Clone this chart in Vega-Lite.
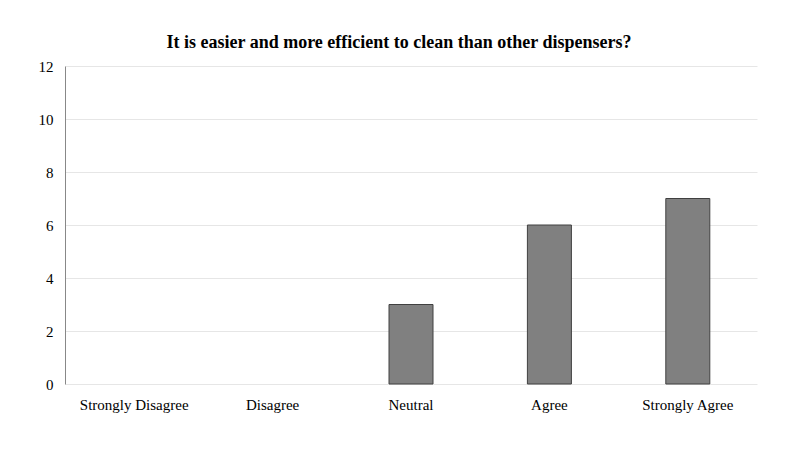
{
  "$schema": "https://vega.github.io/schema/vega-lite/v6.json",
  "autosize": {"type": "none"},
  "width": 692,
  "height": 318,
  "padding": {"left": 65, "top": 66, "right": 43, "bottom": 66},
  "background": "white",
  "title": {
    "text": "It is easier and more efficient to clean than other dispensers?",
    "font": "Liberation Serif",
    "fontSize": 18,
    "fontWeight": "bold",
    "color": "black",
    "anchor": "middle",
    "offset": 7,
    "dx": -12
  },
  "data": {
    "values": [
      {"response": "Strongly Disagree", "count": 0},
      {"response": "Disagree", "count": 0},
      {"response": "Neutral", "count": 3},
      {"response": "Agree", "count": 6},
      {"response": "Strongly Agree", "count": 7}
    ]
  },
  "mark": {"type": "bar", "width": 44, "color": "#808080", "stroke": "#404040", "strokeWidth": 1},
  "encoding": {
    "x": {
      "field": "response",
      "type": "nominal",
      "sort": null,
      "scale": {"paddingInner": 0, "paddingOuter": 0},
      "axis": {
        "title": null,
        "labelAngle": 0,
        "labelFont": "Liberation Serif",
        "labelFontSize": 15,
        "labelColor": "black",
        "ticks": false,
        "domain": false,
        "labelPadding": 13
      }
    },
    "y": {
      "field": "count",
      "type": "quantitative",
      "scale": {"domain": [0, 12]},
      "axis": {
        "title": null,
        "values": [0, 2, 4, 6, 8, 10, 12],
        "labelFont": "Liberation Serif",
        "labelFontSize": 15,
        "labelColor": "black",
        "ticks": false,
        "labelPadding": 12,
        "domainColor": "#888888",
        "gridColor": "#e6e6e6",
        "gridWidth": 1
      }
    },
    "strokeOpacity": {
      "condition": {"test": "datum.count > 0", "value": 1},
      "value": 0
    }
  },
  "config": {"view": {"stroke": null}}
}
